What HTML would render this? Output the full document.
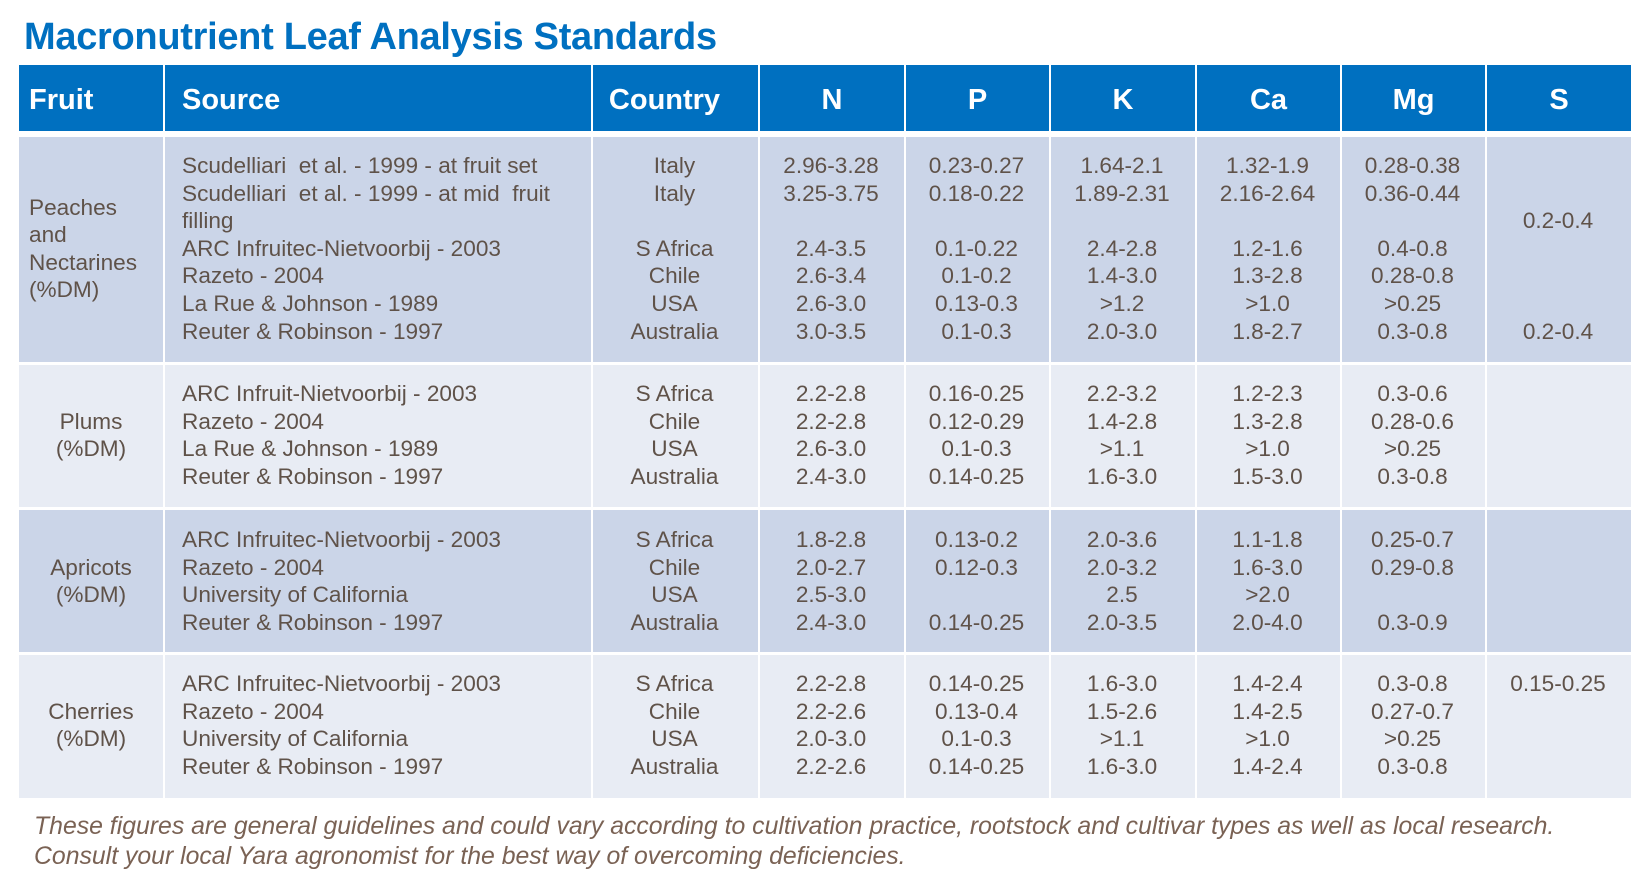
<!DOCTYPE html>
<html><head><meta charset="utf-8"><style>
body{margin:0;width:1631px;height:885px;background:#fff;position:relative;overflow:hidden;font-family:"Liberation Sans",Arial,sans-serif;}
.t{position:absolute;left:24px;top:16px;font-size:38px;font-weight:bold;color:#0070c0;letter-spacing:-0.3px}
.c{position:absolute;}
.h{background:#0070c0;color:#fff;font-weight:bold;font-size:29px;line-height:70px;}
.r1{background:#cbd5e8}.r2{background:#e8ecf4}
.x{position:absolute;font-size:22.6px;line-height:27.6px;color:#5f5249;white-space:pre;}
.f{position:absolute;left:34px;font-size:24.8px;font-style:italic;color:#7a6254;white-space:nowrap}
</style></head><body>
<div class="t">Macronutrient Leaf Analysis Standards</div>
<div id="g"></div>
<div class="f" style="top:813px">These figures are general guidelines and could vary according to cultivation practice, rootstock and cultivar types as well as local research.</div>
<div class="f" style="top:843px">Consult your local Yara agronomist for the best way of overcoming deficiencies.</div>
<script>
const X=[19,163,591,758,904,1049,1195,1340,1485,1631];
const H=["Fruit","Source","Country","N","P","K","Ca","Mg","S"];
const R=[[137,362,'r1'],[365,507,'r2'],[510,652,'r1'],[655,798,'r2']];
let h='';
for(let i=0;i<9;i++){
 const l=X[i]+(i?2:0),w=X[i+1]-X[i]-(i?2:0);
 h+=`<div class="c h" style="left:${l}px;top:65px;width:${w}px;height:66px;text-align:${i<2?'left':'center'}"><span style="padding-left:${i==0?10:i==1?17:0}px;${i==2?'margin-left:-22px':''}">${H[i]}</span></div>`;
 for(const r of R) h+=`<div class="c ${r[2]}" style="left:${l}px;top:${r[0]}px;width:${w}px;height:${r[1]-r[0]}px"></div>`;
}
const D=[
 [152,[["Peaches\nand\nNectarines\n(%DM)",193.5-152,'left']],
  ["Scudelliari  et al. - 1999 - at fruit set\nScudelliari  et al. - 1999 - at mid  fruit\nfilling\nARC Infruitec-Nietvoorbij - 2003\nRazeto - 2004\nLa Rue & Johnson - 1989\nReuter & Robinson - 1997",
   "Italy\nItaly\n \nS Africa\nChile\nUSA\nAustralia",
   "2.96-3.28\n3.25-3.75\n \n2.4-3.5\n2.6-3.4\n2.6-3.0\n3.0-3.5",
   "0.23-0.27\n0.18-0.22\n \n0.1-0.22\n0.1-0.2\n0.13-0.3\n0.1-0.3",
   "1.64-2.1\n1.89-2.31\n \n2.4-2.8\n1.4-3.0\n>1.2\n2.0-3.0",
   "1.32-1.9\n2.16-2.64\n \n1.2-1.6\n1.3-2.8\n>1.0\n1.8-2.7",
   "0.28-0.38\n0.36-0.44\n \n0.4-0.8\n0.28-0.8\n>0.25\n0.3-0.8",
   " \n \n0.2-0.4\n \n \n \n0.2-0.4"]],
 [380,[["Plums\n(%DM)",27.6,'center']],
  ["ARC Infruit-Nietvoorbij - 2003\nRazeto - 2004\nLa Rue & Johnson - 1989\nReuter & Robinson - 1997","S Africa\nChile\nUSA\nAustralia",
   "2.2-2.8\n2.2-2.8\n2.6-3.0\n2.4-3.0","0.16-0.25\n0.12-0.29\n0.1-0.3\n0.14-0.25","2.2-3.2\n1.4-2.8\n>1.1\n1.6-3.0",
   "1.2-2.3\n1.3-2.8\n>1.0\n1.5-3.0","0.3-0.6\n0.28-0.6\n>0.25\n0.3-0.8",""]],
 [526,[["Apricots\n(%DM)",27.6,'center']],
  ["ARC Infruitec-Nietvoorbij - 2003\nRazeto - 2004\nUniversity of California\nReuter & Robinson - 1997","S Africa\nChile\nUSA\nAustralia",
   "1.8-2.8\n2.0-2.7\n2.5-3.0\n2.4-3.0","0.13-0.2\n0.12-0.3\n \n0.14-0.25","2.0-3.6\n2.0-3.2\n2.5\n2.0-3.5",
   "1.1-1.8\n1.6-3.0\n>2.0\n2.0-4.0","0.25-0.7\n0.29-0.8\n \n0.3-0.9",""]],
 [670,[["Cherries\n(%DM)",27.6,'center']],
  ["ARC Infruitec-Nietvoorbij - 2003\nRazeto - 2004\nUniversity of California\nReuter & Robinson - 1997","S Africa\nChile\nUSA\nAustralia",
   "2.2-2.8\n2.2-2.6\n2.0-3.0\n2.2-2.6","0.14-0.25\n0.13-0.4\n0.1-0.3\n0.14-0.25","1.6-3.0\n1.5-2.6\n>1.1\n1.6-3.0",
   "1.4-2.4\n1.4-2.5\n>1.0\n1.4-2.4","0.3-0.8\n0.27-0.7\n>0.25\n0.3-0.8","0.15-0.25"]]
];
const esc=s=>s.replace(/&/g,'&amp;').replace(/</g,'&lt;').replace(/>/g,'&gt;');
for(const [top,[f],cols] of D){
 const fl=f[2]=='left';
 h+=`<div class="x" style="left:${fl?29:19}px;width:${fl?130:144}px;top:${top+f[1]}px;text-align:${f[2]}">${esc(f[0])}</div>`;
 cols.forEach((t,j)=>{const i=j+1;
  if(i==1) h+=`<div class="x" style="left:182px;top:${top}px">${esc(t)}</div>`;
  else h+=`<div class="x" style="left:${X[i]}px;width:${X[i+1]-X[i]}px;top:${top}px;text-align:center">${esc(t)}</div>`;});
}
document.getElementById('g').innerHTML=h;
</script>
</body></html>
